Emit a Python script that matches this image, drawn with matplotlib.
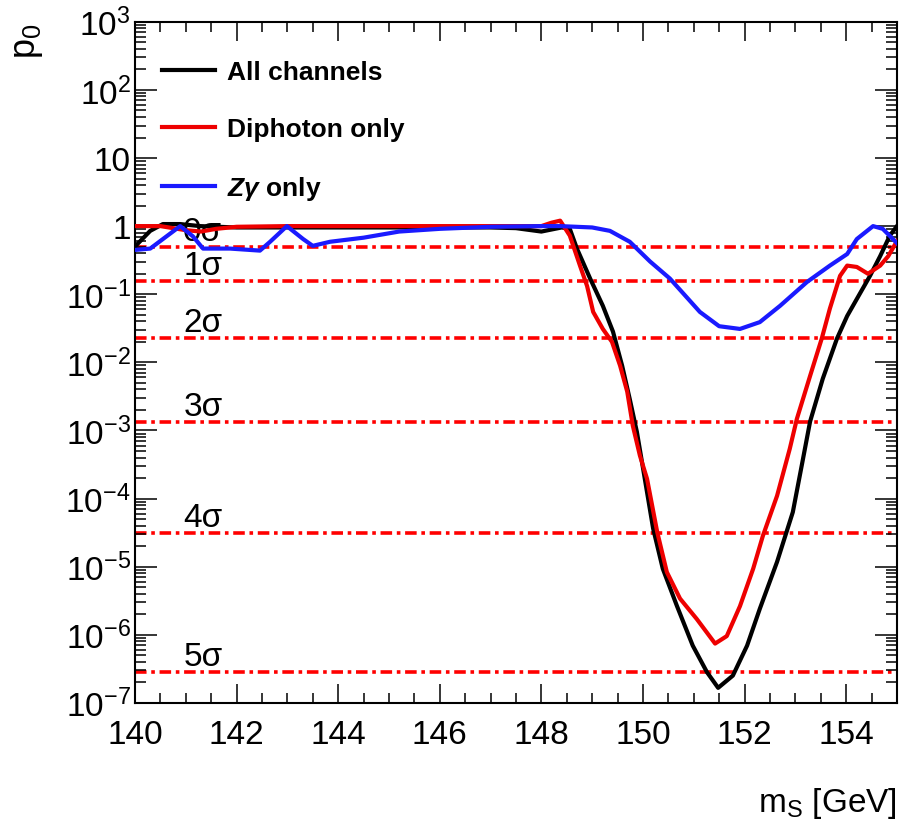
import matplotlib
matplotlib.use('Agg')
import matplotlib.pyplot as plt
from matplotlib.ticker import FixedLocator, FixedFormatter, MultipleLocator, LogLocator, NullFormatter
import numpy as np

# fuente tipo Helvetica (estilo ROOT)
plt.rcParams['font.family'] = ['Liberation Sans', 'DejaVu Sans']
plt.rcParams['mathtext.fontset'] = 'custom'
plt.rcParams['mathtext.rm'] = 'Liberation Sans'
plt.rcParams['mathtext.it'] = 'Liberation Sans:italic:bold'
plt.rcParams['mathtext.bf'] = 'Liberation Sans:bold'

# datos (log10 de p0)
x_all = [140.0, 140.3, 140.55, 140.89, 141.28, 142.0, 143.0, 144.0, 145.0, 146.0, 147.0,
         147.5, 147.8, 148.0, 148.2, 148.4, 148.56, 148.7, 148.96, 149.21, 149.41, 149.59,
         149.74, 149.88, 150.0, 150.2, 150.39, 150.67, 150.98, 151.26, 151.48, 151.77,
         152.05, 152.3, 152.64, 152.95, 153.15, 153.29, 153.54, 153.82, 154.02, 154.21,
         154.47, 154.67, 154.86, 155.0]
logp_all = [-0.3, -0.07, 0.03, 0.03, 0.0, -0.02, -0.02, -0.02, -0.02, -0.02, -0.02,
            -0.03, -0.06, -0.08, -0.05, -0.02, -0.04, -0.33, -0.77, -1.17, -1.55, -2.05,
            -2.54, -3.02, -3.55, -4.44, -5.03, -5.58, -6.16, -6.55, -6.78, -6.6,
            -6.16, -5.62, -4.93, -4.2, -3.42, -2.87, -2.24, -1.65, -1.32, -1.07,
            -0.73, -0.44, -0.14, 0.0]

x_dipho = [140.0, 140.5, 141.0, 141.3, 141.6, 142.0, 143.0, 144.0, 145.0, 146.0, 147.0, 148.0,
           148.2, 148.37, 148.56, 148.76, 148.9, 149.02, 149.21, 149.39, 149.55, 149.69,
           149.8, 149.94, 150.08, 150.28, 150.47, 150.73, 151.06, 151.42, 151.65, 151.91,
           152.17, 152.36, 152.64, 152.89, 153.03, 153.29, 153.52, 153.68, 153.88, 154.02,
           154.21, 154.43, 154.67, 154.83, 155.0]
logp_dipho = [0.0, 0.0, -0.06, -0.08, -0.04, -0.01, 0.0, 0.0, 0.0, 0.0, 0.0, 0.0,
              0.05, 0.08, -0.14, -0.58, -0.88, -1.26, -1.51, -1.7, -2.05, -2.43,
              -2.93, -3.37, -3.71, -4.49, -5.08, -5.47, -5.77, -6.13, -6.02, -5.58,
              -5.03, -4.55, -3.96, -3.27, -2.83, -2.2, -1.65, -1.21, -0.73, -0.58,
              -0.6, -0.7, -0.58, -0.44, -0.22]

x_zg = [140.0, 140.3, 140.55, 140.89, 141.14, 141.34, 141.87, 142.46, 142.66, 142.99, 143.31,
        143.5, 143.84, 144.5, 145.2, 146.0, 147.0, 148.0, 148.37, 149.0, 149.35, 149.74, 150.14,
        150.53, 151.12, 151.5, 151.91, 152.3, 152.7, 153.23, 153.68, 154.02, 154.21,
        154.53, 154.72, 155.0]
logp_zg = [-0.35, -0.33, -0.19, 0.0, -0.15, -0.33, -0.33, -0.36, -0.23, 0.0, -0.19,
           -0.29, -0.23, -0.17, -0.08, -0.04, -0.01, 0.0, 0.0, -0.02, -0.07, -0.23, -0.52,
           -0.77, -1.26, -1.47, -1.51, -1.41, -1.17, -0.82, -0.58, -0.41, -0.19,
           0.0, -0.04, -0.25]

# niveles de significancia
sigma_p = [0.5, 0.1587, 0.02275, 0.00135, 3.167e-5, 2.867e-7]
sigma_lab = ['0σ', '1σ', '2σ', '3σ', '4σ', '5σ']

etiquetas = ['All channels', 'Diphoton only', r'$Z\gamma$ only']

yticks = [1e-7, 1e-6, 1e-5, 1e-4, 1e-3, 1e-2, 1e-1, 1, 10, 100, 1000]
yticklab = [r'$\mathdefault{10^{-7}}$', r'$\mathdefault{10^{-6}}$', r'$\mathdefault{10^{-5}}$',
            r'$\mathdefault{10^{-4}}$', r'$\mathdefault{10^{-3}}$', r'$\mathdefault{10^{-2}}$',
            r'$\mathdefault{10^{-1}}$', '1', '10', r'$\mathdefault{10^{2}}$', r'$\mathdefault{10^{3}}$']

fig = plt.figure(figsize=(9.12, 8.29), dpi=100)
ax = fig.add_axes([0.148, 0.151, 0.8355, 0.8215])

# lineas de sigma
for p, lab in zip(sigma_p, sigma_lab):
    ax.axhline(p, color='#ff0000', lw=2.6, linestyle=(0, (3.2, 1.3, 1.0, 1.3)), zorder=1)
    ax.text(140.95, p, lab, fontsize=24, va='bottom', ha='left', zorder=2)

ax.plot(x_all, 10**np.array(logp_all), color='black', lw=3, label=etiquetas[0], zorder=3)
ax.plot(x_dipho, 10**np.array(logp_dipho), color='#ee0000', lw=3, label=etiquetas[1], zorder=4)
ax.plot(x_zg, 10**np.array(logp_zg), color='#1a1aff', lw=3, label=etiquetas[2], zorder=5)

ax.set_yscale('log')
ax.set_xlim(140, 155)
ax.set_ylim(1e-7, 1e3)

ax.xaxis.set_major_locator(MultipleLocator(2))
ax.xaxis.set_minor_locator(MultipleLocator(0.5))
ax.yaxis.set_major_locator(FixedLocator(yticks))
ax.yaxis.set_major_formatter(FixedFormatter(yticklab))
ax.yaxis.set_minor_locator(LogLocator(base=10, subs=np.arange(2, 10), numticks=20))
ax.yaxis.set_minor_formatter(NullFormatter())

ax.tick_params(which='both', direction='in', top=True, right=True, width=1.1, labelsize=24)
ax.tick_params(axis='x', which='major', length=14, pad=12)
ax.tick_params(axis='x', which='minor', length=7)
ax.tick_params(axis='y', which='major', length=16, pad=3)
ax.tick_params(axis='y', which='minor', length=8)
for s in ax.spines.values():
    s.set_linewidth(1.5)

leg = ax.legend(loc='upper left', bbox_to_anchor=(0.018, 0.963), frameon=False,
                prop={'family': 'Liberation Sans', 'weight': 'bold', 'size': 19},
                handlelength=2.0, handletextpad=0.45, labelspacing=1.25, borderpad=0)

fig.text(0.03, 0.972, r'p$_{\mathdefault{0}}$', fontsize=26, rotation=90, ha='center', va='top')
fig.text(0.9836, 0.0205, r'm$_{\mathdefault{S}}$ [GeV]', fontsize=24, ha='right', va='baseline')

fig.savefig('out.png', dpi=100)
